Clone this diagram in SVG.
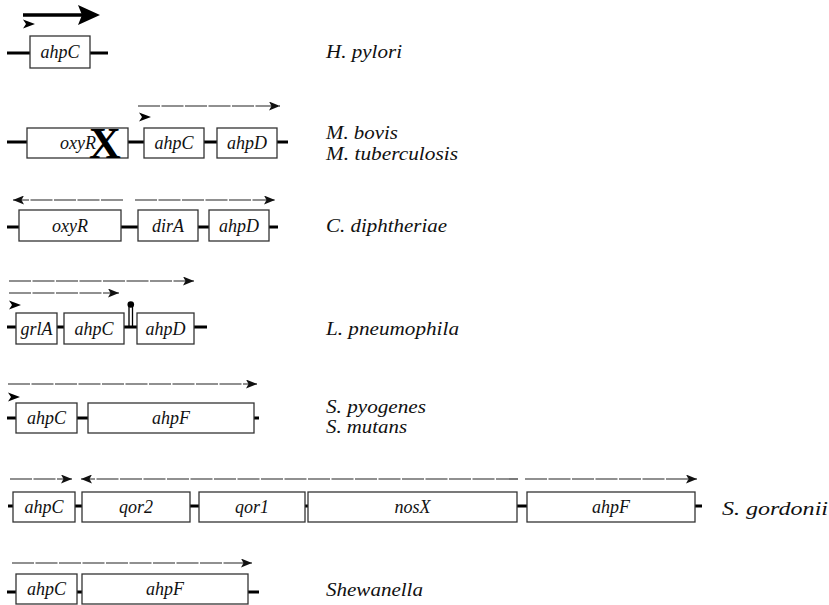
<svg xmlns="http://www.w3.org/2000/svg" width="829" height="605" viewBox="0 0 829 605">
<style>
.bb{fill:none;stroke:#000;stroke-width:3}
.g rect{fill:#fff;stroke:#333;stroke-width:1.3}
.da{fill:none;stroke:#222;stroke-width:1.2;stroke-dasharray:22 1.5;marker-end:url(#ah)}
.pr{fill:#000}
</style>
<defs>
<marker id="ah" markerUnits="userSpaceOnUse" markerWidth="12" markerHeight="9" refX="11" refY="4.5" orient="auto">
<path d="M0,0 L11,4.5 L0,9 L2.5,4.5 z" fill="#111"/>
</marker>
<path id="prom" d="M0,-4.5 L12,0 L0,4.5 L3,0 z"/>
</defs>

<g id="connectors">
<path class="bb" d="M7,53 H108"/>
<path d="M23,15 H84" stroke="#000" stroke-width="3.5"/>
<path d="M78,5 L100,15 L78,25 L82,15 z" fill="#000"/>
<use href="#prom" x="23" y="24" class="pr"/>
<path class="bb" d="M7,142 H288"/>
<path class="da" d="M138,106 H280"/>
<use href="#prom" x="139" y="117" class="pr"/>
<path class="bb" d="M7,227 H278"/>
<path class="da" d="M123,200 H13"/>
<path class="da" d="M135,200 H275"/>
<path class="bb" d="M7,327 H207"/>
<path class="da" d="M9,281 H194"/>
<path class="da" d="M9,293 H119"/>
<use href="#prom" x="9" y="305" class="pr"/>
<path d="M129,327 V306 M132.5,327 V306" stroke="#000" stroke-width="1.3" fill="none"/>
<circle cx="130.8" cy="304.5" r="3.3" fill="#000"/>
<path class="bb" d="M7,418 H259"/>
<path class="da" d="M8,384 H257"/>
<use href="#prom" x="8" y="397" class="pr"/>
<path class="bb" d="M8,506 H702"/>
<path class="da" d="M10,479 H72"/>
<path class="da" d="M518,479 H81"/>
<path class="da" d="M525,479 H697"/>
<path class="bb" d="M7,592 H259"/>
<path class="da" d="M12,563 H252"/>
</g>

<g font-family="'Liberation Serif', serif" font-style="italic" font-size="18" fill="#111" text-anchor="middle">
<g id="hpylori" class="g">
<rect x="30" y="36" width="60" height="32"/>
<text x="60" y="58">ahpC</text>
</g>

<g id="mbovis" class="g">
<rect x="27" y="128" width="101" height="30"/>
<text x="78" y="149">oxyR</text>
<text x="105" y="158" font-style="normal" font-weight="bold" font-size="44" fill="#000">X</text>
<rect x="144" y="128" width="60" height="30"/>
<text x="174" y="149">ahpC</text>
<rect x="217" y="128" width="60" height="30"/>
<text x="247" y="149">ahpD</text>
</g>

<g id="cdiph" class="g">
<rect x="19" y="210" width="102" height="31"/>
<text x="70" y="232">oxyR</text>
<rect x="138" y="210" width="60" height="31"/>
<text x="168" y="232">dirA</text>
<rect x="209" y="210" width="60" height="31"/>
<text x="239" y="232">ahpD</text>
</g>

<g id="lpneumo" class="g">
<rect x="16" y="313" width="41" height="31"/>
<text x="36.5" y="335">grlA</text>
<rect x="64" y="313" width="60" height="31"/>
<text x="94" y="335">ahpC</text>
<rect x="137" y="313" width="57" height="31"/>
<text x="165.5" y="335">ahpD</text>
</g>

<g id="spyo" class="g">
<rect x="16" y="403" width="61" height="30"/>
<text x="46.5" y="424">ahpC</text>
<rect x="88" y="403" width="166" height="30"/>
<text x="171" y="424">ahpF</text>
</g>

<g id="sgord" class="g">
<rect x="13" y="492" width="62" height="30"/>
<text x="44" y="513">ahpC</text>
<rect x="82" y="492" width="108" height="30"/>
<text x="136" y="513">qor2</text>
<rect x="199" y="492" width="106" height="30"/>
<text x="252" y="513">qor1</text>
<rect x="308" y="492" width="209" height="30"/>
<text x="412.5" y="513">nosX</text>
<rect x="527" y="492" width="168" height="30"/>
<text x="611" y="513">ahpF</text>
</g>

<g id="shew" class="g">
<rect x="16" y="574" width="61" height="30"/>
<text x="46.5" y="595">ahpC</text>
<rect x="82" y="574" width="166" height="30"/>
<text x="165" y="595">ahpF</text>
</g>

<g id="species" text-anchor="start">
<text x="326" y="58" textLength="76" lengthAdjust="spacingAndGlyphs">H. pylori</text>
<text x="326" y="139" textLength="72" lengthAdjust="spacingAndGlyphs">M. bovis</text>
<text x="326" y="160" textLength="132" lengthAdjust="spacingAndGlyphs">M. tuberculosis</text>
<text x="326" y="232" textLength="121" lengthAdjust="spacingAndGlyphs">C. diphtheriae</text>
<text x="326" y="335" textLength="133" lengthAdjust="spacingAndGlyphs">L. pneumophila</text>
<text x="326" y="413" textLength="100" lengthAdjust="spacingAndGlyphs">S. pyogenes</text>
<text x="326" y="433" textLength="81" lengthAdjust="spacingAndGlyphs">S. mutans</text>
<text x="722" y="515" textLength="106" lengthAdjust="spacingAndGlyphs">S. gordonii</text>
<text x="326" y="596" textLength="97" lengthAdjust="spacingAndGlyphs">Shewanella</text>
</g>
</g>
</svg>
